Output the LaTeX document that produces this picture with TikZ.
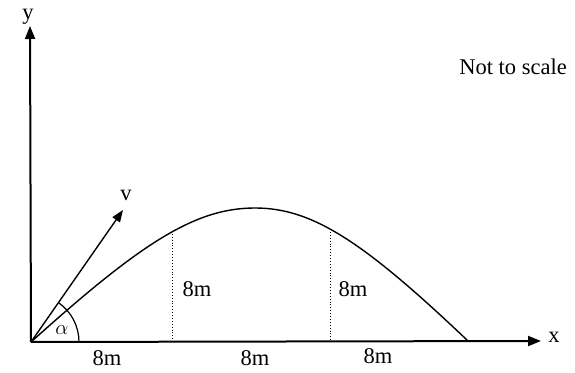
\documentclass[tikz,border=0pt]{standalone}
\usepackage{fontspec}
\setmainfont{Liberation Serif}
\usetikzlibrary{arrows.meta,calc}
\tikzset{
  axis/.style={line width=2pt,-{Triangle[length=13pt,width=10pt]}},
  traj/.style={line width=1.4pt},
  vel/.style={line width=1.4pt,-{Triangle[length=12pt,width=9pt]}},
  guide/.style={line width=0.9pt,dotted},
  lbl/.style={font=\fontsize{22.5}{26}\selectfont,inner sep=0pt}
}
\begin{document}
\begin{tikzpicture}[x=1pt,y=1pt]
\useasboundingbox (0,0) rectangle (575,372);
\coordinate (O) at (31,30);
\coordinate (Y) at (30,346);
\coordinate (X) at (541,31);
\coordinate (V) at (123,162);
\coordinate (T) at (255,164);
\coordinate (L) at (468,31);
\coordinate (P1) at (172,141);
\coordinate (F1) at (172,30);
\coordinate (P2) at (330,140);
\coordinate (F2) at (330,30);
\draw[axis] (O) -- (Y);
\draw[axis] (O) -- (X);
\draw[vel] (O) -- (V);
\draw[traj] (O) .. controls (141,129) and (195,164) .. (T)
                .. controls (312,164) and (363,131) .. (L);
\draw[guide] (P1) -- (F1);
\draw[guide] (P2) -- (F2);
\draw[line width=1.2pt] ($(O)+(48,0)$) arc[start angle=0,end angle=55,radius=48];
\node[lbl] (ylab) at (28,355) {y};
\node[lbl] (xlab) at (554,35) {x};
\node[lbl] (vlab) at (126,177) {v};
\node[lbl] (alab) at (62,42) {$\alpha$};
\node[lbl] (h1) at (197,83) {8m};
\node[lbl] (h2) at (353,83) {8m};
\node[lbl] (d1) at (107,14) {8m};
\node[lbl] (d2) at (255,14) {8m};
\node[lbl] (d3) at (378,16) {8m};
\node[lbl] (note) at (513,305) {Not to scale};
\end{tikzpicture}
\end{document}
